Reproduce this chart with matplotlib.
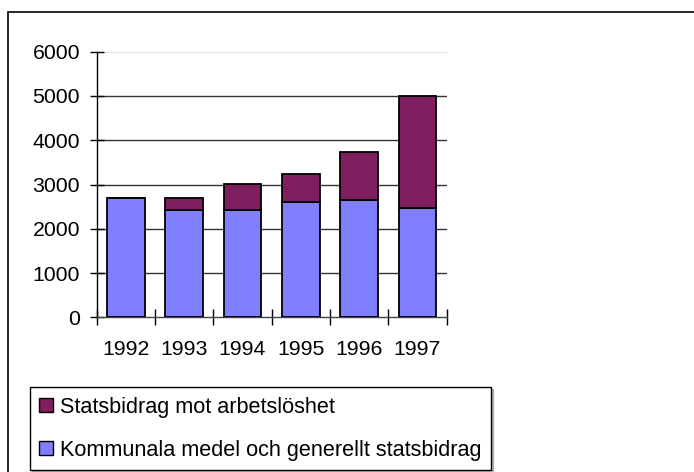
import matplotlib
matplotlib.use("Agg")
import matplotlib.pyplot as plt
from matplotlib.patches import Rectangle, Patch

years = ["1992", "1993", "1994", "1995", "1996", "1997"]
kommunala = [2700, 2430, 2430, 2605, 2650, 2470]
statsbidrag = [0, 270, 580, 635, 1085, 2530]
yticks = [0, 1000, 2000, 3000, 4000, 5000, 6000]
label_stats = "Statsbidrag mot arbetslöshet"
label_komm = "Kommunala medel och generellt statsbidrag"

blue = "#8080FF"
maroon = "#7F1F5F"
FS = 15.3
LFS = 15.6

plt.rcParams["font.family"] = ["Liberation Sans", "DejaVu Sans"]
W, H = 694, 472
fig = plt.figure(figsize=(W / 100, H / 100), dpi=100)
ax = fig.add_axes([96.7 / W, 1 - 317.3 / H, (446.7 - 96.7) / W, (317.3 - 51.7) / H])

x = list(range(len(years)))
ax.bar(x, kommunala, width=0.65, color=blue, edgecolor="black", linewidth=1.3, zorder=3)
ax.bar(x, statsbidrag, width=0.65, bottom=kommunala, color=maroon, edgecolor="black",
       linewidth=1.3, zorder=3)

ax.set_xlim(-0.5, len(years) - 0.5)
ax.set_ylim(yticks[0], yticks[-1])
ax.set_yticks(yticks)
ax.set_yticklabels([str(v) for v in yticks], fontsize=FS)
for v in yticks[1:]:
    ax.axhline(v, color="#e6e6e6" if v == yticks[-1] else "#333333", lw=1.0, zorder=1)

ax.set_xticks(x)
ax.set_xticklabels(years, fontsize=FS)
ax.set_xticks([i - 0.5 for i in range(len(years) + 1)], minor=True)
ax.tick_params(axis="x", which="major", length=0, pad=16)
ax.tick_params(axis="x", which="minor", direction="inout", length=11, width=1)
ax.tick_params(axis="y", direction="inout", length=10, width=1, pad=7)

for s in ["top", "right"]:
    ax.spines[s].set_visible(False)
ax.spines["left"].set_linewidth(1)
ax.spines["bottom"].set_linewidth(1)
ax.spines["bottom"].set_color("#444444")

# outer chart border
fig.add_artist(Rectangle((8.3 / W, -0.1), 1.2, 1.1 - 11.7 / H, transform=fig.transFigure,
                         fill=False, edgecolor="black", linewidth=1.2))

handles = [Patch(facecolor=maroon, edgecolor="black", label=label_stats),
           Patch(facecolor=blue, edgecolor="black", label=label_komm)]
leg = fig.legend(handles=handles, loc="upper left", bbox_to_anchor=(30 / W, 1 - 387.3 / H),
                 fontsize=LFS, frameon=True, fancybox=False,
                 shadow={"color": "#808080", "ox": 1.5, "oy": -1.5},
                 borderaxespad=0, borderpad=0.43, handlelength=0.64, handleheight=0.64,
                 handletextpad=0.3, labelspacing=1.02)
leg.get_frame().set_edgecolor("black")
leg.get_frame().set_linewidth(1.0)

fig.savefig("out.png", dpi=100)
